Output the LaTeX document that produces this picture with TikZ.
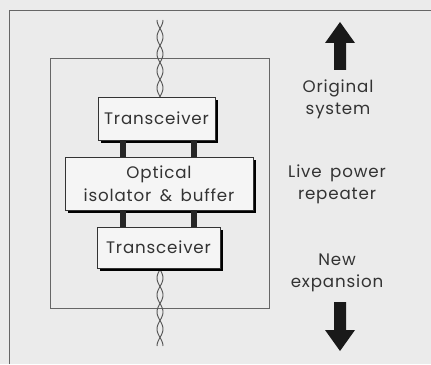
\documentclass[tikz,border=0pt]{standalone}
\usepackage{fontspec}
\setmainfont{Poppins}[LetterSpace=5, WordSpace=1.6]
\usetikzlibrary{positioning, shadows}

\tikzset{
  box/.style={draw=black!80, fill=black!4, line width=0.5pt, align=center,
    inner sep=0pt, text=black!80, font=\fontsize{9.5}{13}\selectfont,
    drop shadow={shadow xshift=1.7pt, shadow yshift=-1.7pt, fill=black, opacity=1}},
  bar/.style={line width=3.4pt, black!85},
  wire/.style={black!65, line width=0.55pt},
  sidetext/.style={align=center, text=black!80, font=\fontsize{9.5}{12.5}\selectfont},
  bigarrow/.style={fill=black!90},
}

\begin{document}
\begin{tikzpicture}[x=0.02cm, y=-0.02cm]
  \useasboundingbox (0,0) rectangle (431,364);
  \fill[black!8] (0,0) rectangle (431,364);
  \draw[black!60, line width=0.5pt] (9,364) -- (9,10) -- (431,10);

  % repeater housing
  \draw[black!60, line width=0.5pt] (50,58) rectangle (269,308);

  % twisted pair cable
  \foreach \s in {1,-1}{
    \draw[wire] plot[domain=20:97, samples=80] ({160+\s*3*cos(180*(\x-20)/17)}, \x);
    \draw[wire] plot[domain=268:346, samples=80] ({160+\s*3*cos(180*(\x-346)/17)}, \x);
  }

  % blocks
  \node[box, minimum width=2.34cm, minimum height=0.86cm] (top) at (156.5,118.5) {Transceiver};
  \node[box, minimum width=3.76cm, minimum height=1.06cm] (iso) at (159,183.5) {Optical\\isolator \& buffer};
  \node[box, minimum width=2.46cm, minimum height=0.82cm] (bot) at (158.5,247.5) {Transceiver};

  \coordinate (lb) at (123,0);
  \coordinate (rb) at (194,0);
  \draw[bar] (lb |- top.south) -- (lb |- iso.north);
  \draw[bar] (rb |- top.south) -- (rb |- iso.north);
  \draw[bar] (lb |- iso.south) -- (lb |- bot.north);
  \draw[bar] (rb |- iso.south) -- (rb |- bot.north);

  % side labels
  \node[sidetext] (orig) at (338,99) {Original\\system};
  \node[sidetext] (live) at (337,184) {Live power\\repeater};
  \node[sidetext] (new)  at (337,273) {New\\expansion};

  % direction arrows
  \fill[bigarrow] (340,22) -- (355,43) -- (346,43) -- (346,70) -- (334,70) -- (334,43) -- (325,43) -- cycle;
  \fill[bigarrow] (340,351) -- (355,330) -- (346,330) -- (346,302) -- (334,302) -- (334,330) -- (325,330) -- cycle;
\end{tikzpicture}
\end{document}
